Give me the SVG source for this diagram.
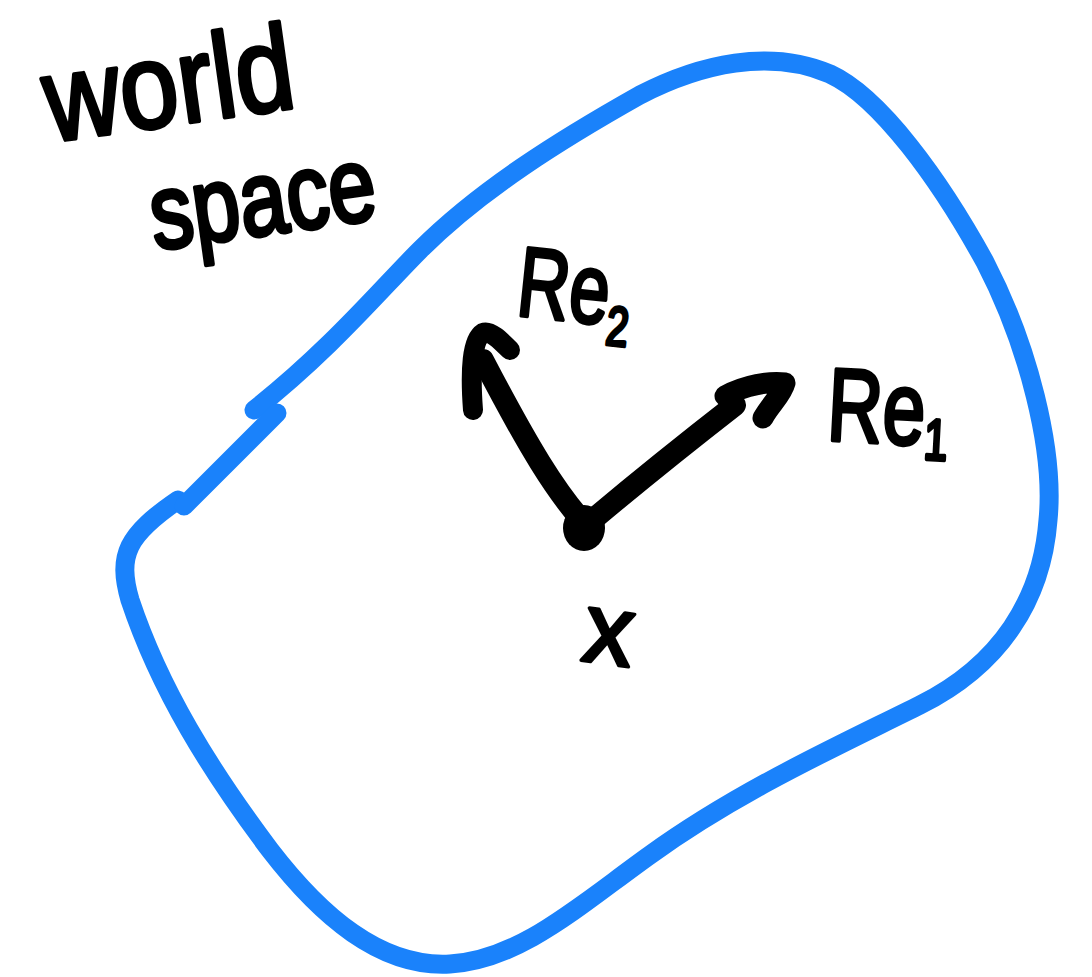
<svg xmlns="http://www.w3.org/2000/svg" width="1092" height="977" viewBox="0 0 1092 977">
<style>
.blob{fill:none;stroke:#1a82fb;stroke-width:19;stroke-linecap:round;stroke-linejoin:round}
.ink{fill:none;stroke:#000;stroke-linecap:round;stroke-linejoin:round}
.hand{font-family:'Liberation Sans','DejaVu Sans',sans-serif;fill:#000;stroke:#000;stroke-width:3.5;stroke-linejoin:round}
</style>
<rect width="1092" height="977" fill="#fff"/>
<g id="world-space">
<path class="blob" d="M 254 410 C 330 350, 380 290, 420 250 C 480 190, 560 140, 640 95 C 700 64, 770 48, 830 74 C 880 97, 940 180, 985 262 C 1028 345, 1055 450, 1048 520 C 1042 600, 1000 665, 920 705 C 840 745, 740 790, 650 855 C 580 905, 520 960, 450 964 C 380 968, 320 915, 270 850 C 210 770, 160 690, 130 600 C 117 555, 127 535, 178 500"/>
<path class="blob" d="M 277 413 L 184 506"/>
<text class="hand" font-size="105" transform="translate(50,142) rotate(-8) scale(1,1.15)">world</text>
<text class="hand" font-size="85" transform="translate(155,250) rotate(-8) scale(1,1.25)">space</text>
</g>
<g id="connectors">
<path class="ink" stroke-width="22" d="M 583 522 C 555 490, 530 450, 483 360"/>
<path class="ink" stroke-width="20" d="M 473 410 C 470 370, 472 340, 483 333 C 490 330, 500 340, 510 350"/>
<path class="ink" stroke-width="22" d="M 590 522 C 640 480, 690 440, 735 405"/>
<path class="ink" stroke-width="21" d="M 725 396 C 745 385, 770 381, 785 383 C 782 395, 770 405, 763 418"/>
</g>
<g id="origin-x">
<ellipse cx="584" cy="528" rx="21" ry="23" fill="#000"/>
<text class="hand" font-size="100" transform="translate(580,660) rotate(8)">x</text>
</g>
<g id="label-re2">
<text class="hand" font-size="90" transform="translate(515,315) rotate(6) scale(0.8,1.1)">Re<tspan font-size="50" dy="18">2</tspan></text>
</g>
<g id="label-re1">
<text class="hand" font-size="90" transform="translate(826,440) rotate(3) scale(0.85,1.15)">Re<tspan font-size="50" dy="12">1</tspan></text>
</g>
</svg>
